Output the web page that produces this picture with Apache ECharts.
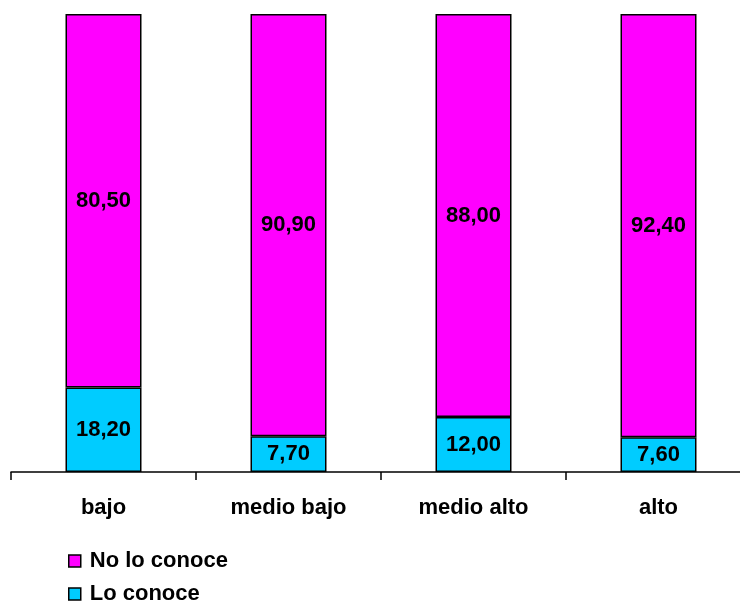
<!DOCTYPE html>
<html>
<head>
<meta charset="utf-8">
<script src="https://cdn.jsdelivr.net/npm/echarts@6/dist/echarts.min.js"></script>
<style>html,body{margin:0;padding:0;background:#fff;overflow:hidden}#c{width:751px;height:603px}</style>
</head>
<body>
<div id="c"></div>
<script>
var categories = ['bajo', 'medio bajo', 'medio alto', 'alto'];
var loConoce = [18.20, 7.70, 12.00, 7.60];
var noLoConoce = [80.50, 90.90, 88.00, 92.40];
var seriesNames = ['Lo conoce', 'No lo conoce'];

function pctData(vals, other) {
  return vals.map(function (v, i) {
    var total = v + other[i];
    return { value: v / total * 100, raw: v };
  });
}
function fmt(p) { return p.data.raw.toFixed(2).replace('.', ','); }

var FONT = '"Liberation Sans", Arial, sans-serif';
var FS = 22;
var labelStyle = {
  show: true, position: 'inside', formatter: fmt,
  color: '#000', fontWeight: 'bold', fontSize: FS, fontFamily: FONT
};

var chart = echarts.init(document.getElementById('c'));
chart.setOption({
  animation: false,
  backgroundColor: '#fff',
  grid: { left: 11, top: 14, right: 0, height: 458, containLabel: false },
  legend: {
    data: ['No lo conoce', 'Lo conoce'],
    orient: 'vertical', left: 68, top: 550, height: 80, padding: 0,
    itemWidth: 12, itemHeight: 12, itemGap: 11,
    icon: 'rect',
    itemStyle: { borderColor: '#000', borderWidth: 1.5 },
    textStyle: { color: '#000', fontWeight: 'bold', fontSize: FS, fontFamily: FONT, padding: [0, 0, 0, 4] }
  },
  xAxis: {
    type: 'category', data: categories,
    axisLine: { lineStyle: { color: '#000', width: 1.5 } },
    axisTick: { show: true, length: 8, lineStyle: { color: '#000', width: 1.5 } },
    axisLabel: { color: '#000', fontWeight: 'bold', fontSize: FS, fontFamily: FONT, margin: 25 }
  },
  yAxis: { type: 'value', min: 0, max: 100, show: false, splitLine: { show: false } },
  series: [
    {
      name: seriesNames[0], type: 'bar', stack: 't', barWidth: 76,
      data: pctData(loConoce, noLoConoce),
      itemStyle: { color: '#00CCFF', borderColor: '#000', borderWidth: 1.5 },
      label: labelStyle
    },
    {
      name: seriesNames[1], type: 'bar', stack: 't', barWidth: 76,
      data: pctData(noLoConoce, loConoce),
      itemStyle: { color: '#FF00FF', borderColor: '#000', borderWidth: 1.5 },
      label: labelStyle
    }
  ]
});
</script>
</body>
</html>
